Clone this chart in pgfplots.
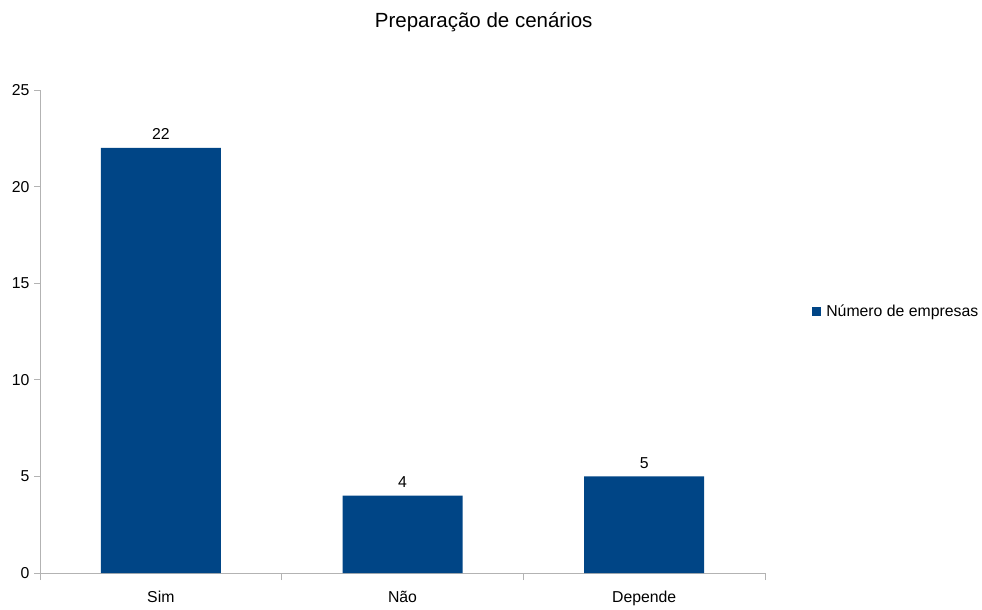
\documentclass[border=0pt]{standalone}
\usepackage{pgfplots}
\pgfplotsset{compat=1.18}
\usepackage{fontspec}
\setmainfont{Liberation Sans}
\definecolor{barblue}{HTML}{004586}
\definecolor{axisgray}{HTML}{B3B3B3}
\begin{document}
\begin{tikzpicture}[x=1pt,y=1pt]
\path (0,0) rectangle (982,603);
\begin{axis}[
  at={(40pt,30pt)}, anchor=south west,
  scale only axis, width=725pt, height=483pt,
  xmin=-0.5, xmax=2.5, ymin=0, ymax=25,
  axis lines*=left,
  axis line style={axisgray, line width=0.8pt},
  xtick={0,1,2},
  xticklabels={Sim,Não,Depende},
  minor xtick={-0.5,0.5,1.5,2.5},
  ytick={0,5,10,15,20,25},
  tick align=outside,
  major x tick style={draw=none},
  minor tick style={axisgray, line width=0.8pt},
  major tick style={axisgray, line width=0.8pt},
  minor tick length=7pt,
  major tick length=6pt,
  ticklabel style={font=\fontsize{15.8}{18}\selectfont, text=black},
  /pgf/number format/assume math mode=true,
  xticklabel style={yshift=-9pt},
  yticklabel style={xshift=-1pt},
  title={Preparação de cenários},
  title style={at={(0.612,1.116)}, anchor=base, font=\fontsize{20.5}{24}\selectfont},
  ybar, bar width=120pt,
  nodes near coords,
  nodes near coords style={font=\fontsize{15.8}{18}\selectfont, text=black, yshift=4.5pt},
  legend style={at={(1.065,0.542)}, anchor=west, draw=none, fill=none,
    font=\fontsize{15.8}{18}\selectfont, inner sep=0pt,
    /tikz/every even column/.append style={column sep=0pt}},
  legend image code/.code={\fill[#1] (0pt,-4.5pt) rectangle (9pt,4.5pt);},
  legend cell align=left,
  clip=false,
]
\addplot[fill=barblue, draw=none] coordinates {(0,22) (1,4) (2,5)};
\addlegendentry{\hspace{3pt}Número de empresas}
\end{axis}
\end{tikzpicture}
\end{document}
